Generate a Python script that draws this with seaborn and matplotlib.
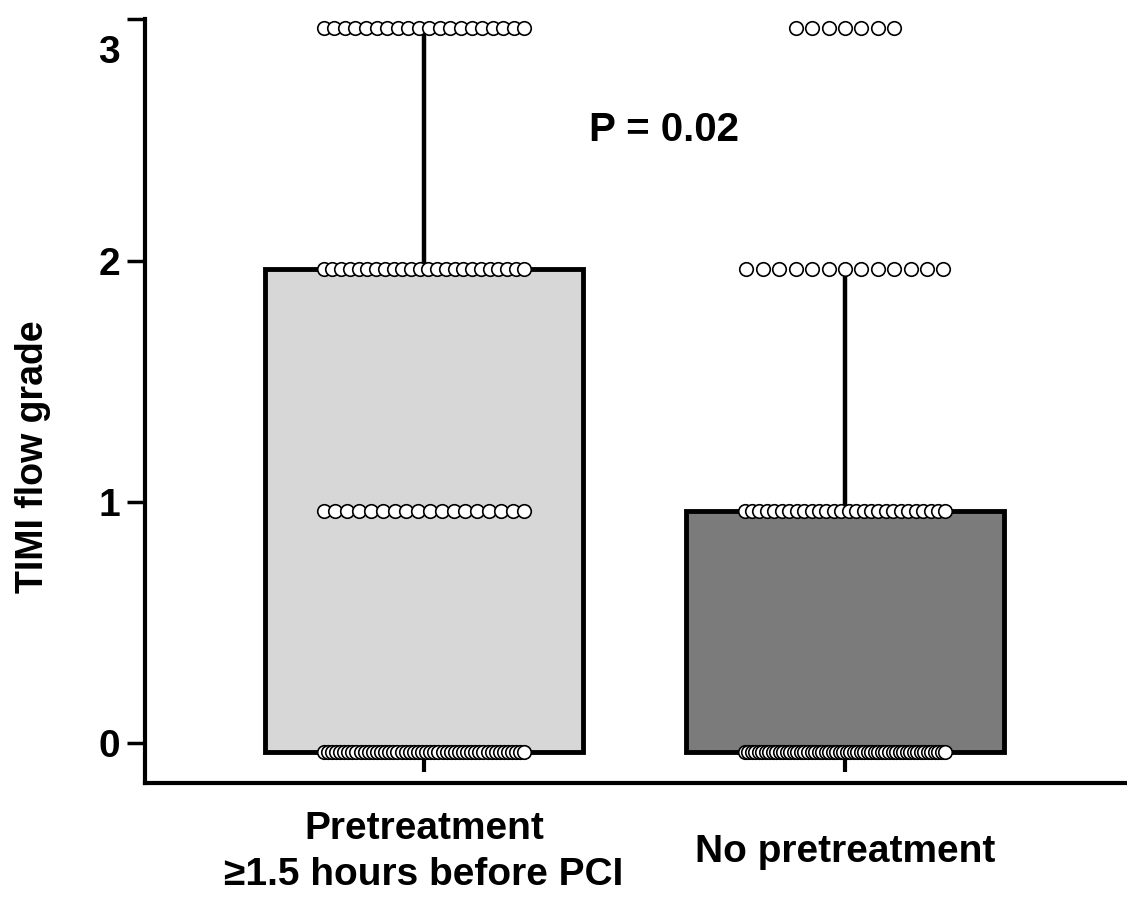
import matplotlib
matplotlib.use("Agg")
import matplotlib.pyplot as plt
import matplotlib.transforms as mtransforms
import numpy as np
import pandas as pd
import seaborn as sns

# ---- data ----
categories = ["Pretreatment\n\u22651.5 hours before PCI", "No pretreatment"]
grades = [0, 1, 2, 3]
counts_pre = [50, 18, 24, 20]      # number of patients at TIMI 0,1,2,3
counts_nopre = [58, 28, 13, 7]
box_top = [2, 1]                   # upper quartile
whisker_top = [3, 2]
p_text = "P = 0.02"
ytick_labels = ["0", "1", "2", "3"]

sns.set_theme(style="white")
plt.rcParams['font.family'] = ['Liberation Sans', 'DejaVu Sans']
plt.rcParams['font.weight'] = 'bold'
plt.rcParams['text.color'] = 'black'
plt.rcParams['axes.labelcolor'] = 'black'
plt.rcParams['xtick.color'] = 'black'
plt.rcParams['ytick.color'] = 'black'

fig = plt.figure(figsize=(11.27, 9.18), dpi=100)
ax = fig.add_axes([145/1127, 1-783/918, 1-145/1127, (783-19)/918])

bar_df = pd.DataFrame({"group": categories, "top": box_top})
sns.barplot(data=bar_df, x="group", y="top", hue="group",
            palette=["#d7d7d7", "#7b7b7b"], width=0.755,
            edgecolor="black", linewidth=3.5, legend=False, ax=ax, zorder=2)

# whiskers
for i, (lo, hi) in enumerate(zip(box_top, whisker_top)):
    ax.vlines(i, lo, hi, color="black", linewidth=3.2, zorder=3)

# dots
rows = []
for i, counts in enumerate([counts_pre, counts_nopre]):
    for g, n in zip(grades, counts):
        step = min(0.039, 0.477 / max(n - 1, 1))
        offs = (np.arange(n) - (n - 1) / 2) * step
        for o in offs:
            rows.append({"x": i + o, "y": g})
dots = pd.DataFrame(rows)
sns.scatterplot(data=dots, x="x", y="y", s=95, color="white",
                edgecolor="black", linewidth=1.2, ax=ax, zorder=4,
                legend=False)

# small tick marks under bars
trans = mtransforms.blended_transform_factory(ax.transData, ax.transAxes)
ax.vlines(range(len(categories)), 0.0144, 0.031, color="black",
          linewidth=3, transform=trans, clip_on=False)

ax.set_xlim(-0.663, 1.67)
ax.set_ylim(-0.129, 3.037)
ax.set_yticks([g + 0.036 for g in grades])
ax.set_yticklabels(ytick_labels)
ax.set_xticks(range(len(categories)))
ax.set_xticklabels(categories, linespacing=1.36)

for s in ["top", "right"]:
    ax.spines[s].set_visible(False)
for s in ["left", "bottom"]:
    ax.spines[s].set_linewidth(3)
    ax.spines[s].set_color("black")

ax.tick_params(axis="y", direction="out", length=13, width=2.5,
               color="black", labelsize=28, pad=5, left=True)
ax.tick_params(axis="x", length=0, labelsize=28, pad=50)
for lab in ax.get_xticklabels():
    lab.set_va("center")
    lab.set_fontweight("bold")
for lab in ax.get_yticklabels():
    lab.set_fontweight("bold")
# top label sits lower than its tick in the reference
ylabs = ax.get_yticklabels()
ylabs[-1].set_transform(ylabs[-1].get_transform() +
                        mtransforms.ScaledTranslation(0, -30/100, fig.dpi_scale_trans))

ax.set_xlabel("")
ax.set_ylabel("TIMI flow grade", fontsize=27, fontweight="bold")
ax.yaxis.set_label_coords(-0.096, 0.427)

ax.text(0.57, 2.577, p_text, fontsize=29, fontweight="bold",
        ha="center", va="center")

fig.savefig("out.png", dpi=100)
